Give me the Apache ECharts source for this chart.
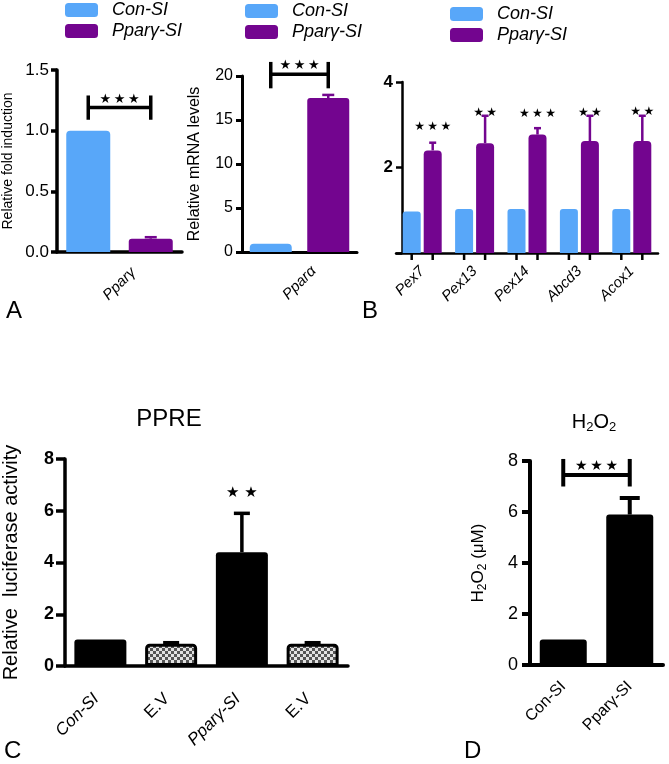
<!DOCTYPE html>
<html><head><meta charset="utf-8">
<script src="https://cdn.jsdelivr.net/npm/echarts@6/dist/echarts.min.js"></script>
<style>html,body{margin:0;padding:0;background:#fff}#c{width:669px;height:764px}</style>
</head><body><div id="c"></div>
<script>
const FONT = 'Liberation Sans, Arial, Helvetica, sans-serif';
const STARFONT = 'DejaVu Sans, sans-serif';
const BLUE = '#58a7f9', PURPLE = '#73058f';
const TS = '\u2009';

// ---- Panel A (left): Pparγ ----
const catA1 = ['Con-SI', 'Pparγ-SI'];
const conA1 = [1.0, '-'];
const pparA1 = ['-', 0.11];
const errA1 = [0, 0.012];
const sigA1 = [[0, 1, 1.19, 1.09, 1.29]];   // from, to, level, low end, high end
const starsA1 = ['★★★'];

// ---- Panel A (right): Pparα ----
const catA2 = ['Con-SI', 'Pparγ-SI'];
const conA2 = [0.95, '-'];
const pparA2 = ['-', 17.5];
const errA2 = [0, 0.35];
const sigA2 = [[0, 1, 20.2, 18.6, 21.6]];
const starsA2 = ['★★★'];

// ---- Panel B ----
const catB = ['Pex7', 'Pex13', 'Pex14', 'Abcd3', 'Acox1'];
const conB = [0.97, 1.03, 1.03, 1.03, 1.03];
const pparB = [2.40, 2.57, 2.77, 2.62, 2.62];
const errPparB = [0.18, 0.64, 0.15, 0.59, 0.59];
const starLevelB = [2.94, 3.27, 3.25, 3.27, 3.29];
const starsB = ['★★★', '★★', '★★★', '★★', '★★'];

// ---- Panel C: PPRE ----
const catC = ['Con-SI', 'E.V', 'Pparγ-SI', 'E.V'];
const valC = [1.02, 0.86, 4.4, 0.86];
const errC = [0, 0.04, 1.5, 0.04];
const starIdxC = [2];
const starLevelC = [6.7];
const starsC = ['★★'];

// ---- Panel D: H2O2 ----
const catD = ['Con-SI', 'Pparγ-SI'];
const valD = [1.0, 5.9];
const errD = [0, 0.65];
const sigD = [[0, 1, 7.45, 7.0, 8.08]];
const starsD = ['★★★'];

const spaced = (s, sep) => s.split('').join(sep);

// checker pattern for E.V bars
const pc = document.createElement('canvas');
pc.width = 6; pc.height = 6;
const pctx = pc.getContext('2d');
pctx.fillStyle = '#e2e2e2'; pctx.fillRect(0, 0, 6, 6);
pctx.fillStyle = '#555'; pctx.fillRect(0, 0, 3, 3); pctx.fillRect(3, 3, 3, 3);
const checker = { image: pc, repeat: 'repeat' };

function errSeries(idx, vals, errs, offset, capW, lw, color) {
  const data = [];
  vals.forEach((v, i) => { if (typeof v === 'number' && errs[i] > 0) data.push([i, v, errs[i]]); });
  return {
    type: 'custom', xAxisIndex: idx, yAxisIndex: idx, z: 5, silent: true, clip: false,
    encode: { x: 0, y: 1 }, data,
    renderItem(p, api) {
      const i = api.value(0), v = api.value(1), e = api.value(2);
      const b = api.coord([i, v]), t = api.coord([i, v + e]);
      const x = b[0] + offset;
      return { type: 'group', children: [
        { type: 'line', shape: { x1: x, y1: b[1], x2: x, y2: t[1] }, style: { stroke: color, lineWidth: lw } },
        { type: 'line', shape: { x1: x - capW / 2, y1: t[1], x2: x + capW / 2, y2: t[1] }, style: { stroke: color, lineWidth: lw } }
      ]};
    }
  };
}

function bracketSeries(idx, sig, stars, lw, starSize, sep) {
  return {
    type: 'custom', xAxisIndex: idx, yAxisIndex: idx, z: 6, silent: true, clip: false,
    encode: { x: 0, y: 2 }, data: sig,
    renderItem(p, api) {
      const a = api.coord([api.value(0), api.value(2)]);
      const b = api.coord([api.value(1), api.value(2)]);
      const lo = api.coord([api.value(0), api.value(3)])[1];
      const hi = api.coord([api.value(0), api.value(4)])[1];
      const st = { stroke: '#000', lineWidth: lw };
      return { type: 'group', children: [
        { type: 'line', shape: { x1: a[0], y1: a[1], x2: b[0], y2: b[1] }, style: st },
        { type: 'line', shape: { x1: a[0], y1: lo, x2: a[0], y2: hi }, style: st },
        { type: 'line', shape: { x1: b[0], y1: lo, x2: b[0], y2: hi }, style: st },
        { type: 'text', style: { text: spaced(stars[p.dataIndex], sep), x: (a[0] + b[0]) / 2, y: a[1] - lw / 2,
            align: 'center', verticalAlign: 'bottom', fontSize: starSize, fontFamily: STARFONT, fill: '#000' } }
      ]};
    }
  };
}

function starSeries(idx, xs, levels, stars, offset, size, sep) {
  return {
    type: 'custom', xAxisIndex: idx, yAxisIndex: idx, z: 6, silent: true, clip: false,
    encode: { x: 0, y: 1 }, data: xs.map((x, i) => [x, levels[i]]),
    renderItem(p, api) {
      const c = api.coord([api.value(0), api.value(1)]);
      return { type: 'text', style: { text: spaced(stars[p.dataIndex], sep), x: c[0] + offset, y: c[1],
        align: 'center', verticalAlign: 'middle', fontSize: size, fontFamily: STARFONT, fill: '#000' } };
    }
  };
}

const BW_B = 18, GAP_B = 3;
const OFF_B = (BW_B + GAP_B) / 2;

function tickSeriesB() {
  return {
    type: 'custom', xAxisIndex: 2, yAxisIndex: 2, z: 7, silent: true, clip: false,
    encode: { x: 0, y: 1 }, data: catB.map((c, i) => [i, 0]),
    renderItem(p, api) {
      const c = api.coord([api.value(0), 0]);
      const st = { stroke: '#000', lineWidth: 2.5 };
      return { type: 'group', children: [-OFF_B, OFF_B].map(o => (
        { type: 'line', shape: { x1: c[0] + o, y1: c[1], x2: c[0] + o, y2: c[1] + 7 }, style: st }
      ))};
    }
  };
}

function yAx(idx, max, interval, o) {
  return Object.assign({
    type: 'value', gridIndex: idx, min: 0, max, interval,
    splitLine: { show: false },
    axisLine: { show: true, lineStyle: { color: '#000', width: o.lw } },
    axisTick: { show: true, length: o.tl, lineStyle: { color: '#000', width: o.lw } },
    axisLabel: { color: '#000', fontFamily: FONT, fontSize: o.fs, fontWeight: o.fw || 'normal',
      margin: o.m, formatter: o.fmt },
    nameLocation: 'middle', nameGap: o.ng, name: o.name,
    nameTextStyle: Object.assign({ color: '#000', fontFamily: FONT, fontSize: o.nfs }, o.nts || {})
  }, o.extra || {});
}

const legendBase = (left, top) => ({
  left, top, orient: 'vertical', padding: 0, itemGap: 3, itemWidth: 33, itemHeight: 14,
  icon: 'roundRect', data: ['Con-SI', 'Pparγ-SI'], selectedMode: false,
  textStyle: { fontFamily: FONT, fontStyle: 'italic', fontSize: 18, color: '#000', padding: [0, 0, 0, 9] }
});

const titleStyle = (fs) => ({ fontFamily: FONT, fontSize: fs, fontWeight: 'normal', color: '#000' });

const option = {
  animation: false,
  backgroundColor: '#fff',
  title: [
    { text: 'PPRE', left: 169, top: 407, textAlign: 'center', padding: 0, textStyle: titleStyle(24) },
    { text: '{a|H}{s|2}{a|O}{s|2}', left: 594, top: 410, textAlign: 'center', padding: 0,
      textStyle: Object.assign(titleStyle(20), { rich: {
        a: { fontFamily: FONT, fontSize: 20, lineHeight: 24, color: '#000' },
        s: { fontFamily: FONT, fontSize: 13, lineHeight: 13, verticalAlign: 'bottom', color: '#000' } } }) },
    { text: 'A', left: 6, top: 299, padding: 0, textStyle: titleStyle(24) },
    { text: 'B', left: 362, top: 299, padding: 0, textStyle: titleStyle(24) },
    { text: 'C', left: 4, top: 739, padding: 0, textStyle: titleStyle(24) },
    { text: 'D', left: 464, top: 739, padding: 0, textStyle: titleStyle(24) }
  ],
  legend: [legendBase(65, 1), legendBase(245, 2), legendBase(450, 5)],
  grid: [
    { left: 57, top: 70, width: 125, height: 182 },
    { left: 242, top: 76, width: 115, height: 176 },
    { left: 396, top: 82, width: 262, height: 171 },
    { left: 62, top: 459, width: 286, height: 207 },
    { left: 530, top: 461, width: 133, height: 204 }
  ],
  xAxis: [
    { type: 'category', gridIndex: 0, data: catA1,
      axisLine: { lineStyle: { color: '#000', width: 3.5 } },
      axisTick: { alignWithLabel: true, length: 9, lineStyle: { color: '#000', width: 3.5 } },
      axisLabel: { show: false },
      name: 'Pparγ', nameLocation: 'middle', nameGap: 32, nameRotate: 45,
      nameTextStyle: { color: '#000', fontFamily: FONT, fontSize: 15, fontStyle: 'italic', align: 'center', verticalAlign: 'middle' } },
    { type: 'category', gridIndex: 1, data: catA2,
      axisLine: { lineStyle: { color: '#000', width: 3 } },
      axisTick: { alignWithLabel: true, length: 8, lineStyle: { color: '#000', width: 3 } },
      axisLabel: { show: false },
      name: 'Pparα', nameLocation: 'middle', nameGap: 31, nameRotate: 45,
      nameTextStyle: { color: '#000', fontFamily: FONT, fontSize: 15, fontStyle: 'italic', align: 'center', verticalAlign: 'middle' } },
    { type: 'category', gridIndex: 2, data: catB,
      axisLine: { lineStyle: { color: '#000', width: 2.5 } },
      axisTick: { show: false },
      axisLabel: { color: '#000', fontFamily: FONT, fontSize: 15, fontStyle: 'italic', rotate: 45, margin: 16, interval: 0 } },
    { type: 'category', gridIndex: 3, data: catC,
      axisLine: { lineStyle: { color: '#000', width: 3.5 } },
      axisTick: { alignWithLabel: true, length: 10, lineStyle: { color: '#000', width: 3.5 } },
      axisLabel: { color: '#000', fontFamily: FONT, fontSize: 17, rotate: 45, margin: 26, interval: 0, padding: [0, 6, 0, 0],
        formatter: v => v === 'E.V' ? v : '{i|' + v + '}',
        rich: { i: { fontFamily: FONT, fontSize: 17, fontStyle: 'italic', color: '#000' } } } },
    { type: 'category', gridIndex: 4, data: catD,
      axisLine: { lineStyle: { color: '#000', width: 4 } },
      axisTick: { alignWithLabel: true, length: 9, lineStyle: { color: '#000', width: 4 } },
      axisLabel: { color: '#000', fontFamily: FONT, fontSize: 16, rotate: 45, margin: 19, interval: 0 } }
  ],
  yAxis: [
    yAx(0, 1.5, 0.5, { lw: 3.5, tl: 6, fs: 17, m: 8, fmt: v => v.toFixed(1), ng: 42, name: 'Relative fold induction', nfs: 14 }),
    yAx(1, 20, 5, { lw: 3, tl: 6, fs: 16, m: 9, ng: 39, name: 'Relative mRNA levels', nfs: 16 }),
    yAx(2, 4, 2, { lw: 2.5, tl: 6, fs: 17, fw: 'bold', m: 9, fmt: v => v === 0 ? '' : String(v), ng: 30, name: '', nfs: 14, extra: { offset: -6 } }),
    yAx(3, 8, 2, { lw: 3.5, tl: 9, fs: 18, fw: 'bold', m: 11, ng: 44, name: 'Relative  luciferase activity', nfs: 20 }),
    yAx(4, 8, 2, { lw: 4, tl: 8, fs: 18, m: 12, ng: 41, name: '{a|H}{s|2}{a|O}{s|2}{a| (μM)}', nfs: 17,
      nts: { rich: {
        a: { fontFamily: FONT, fontSize: 17, lineHeight: 21, color: '#000' },
        s: { fontFamily: FONT, fontSize: 12, lineHeight: 12, verticalAlign: 'bottom', color: '#000' } } } })
  ],
  series: [
    { name: 'Con-SI', type: 'bar', xAxisIndex: 0, yAxisIndex: 0, data: conA1, barWidth: 44, barGap: '-100%',
      itemStyle: { color: BLUE, borderRadius: [4, 4, 0, 0] } },
    { name: 'Pparγ-SI', type: 'bar', xAxisIndex: 0, yAxisIndex: 0, data: pparA1, barWidth: 44, barGap: '-100%',
      itemStyle: { color: PURPLE, borderRadius: [3, 3, 0, 0] } },
    { name: 'Con-SI', type: 'bar', xAxisIndex: 1, yAxisIndex: 1, data: conA2, barWidth: 42, barGap: '-100%',
      itemStyle: { color: BLUE, borderRadius: [4, 4, 0, 0] } },
    { name: 'Pparγ-SI', type: 'bar', xAxisIndex: 1, yAxisIndex: 1, data: pparA2, barWidth: 42, barGap: '-100%',
      itemStyle: { color: PURPLE, borderRadius: [3, 3, 0, 0] } },
    { name: 'Con-SI', type: 'bar', xAxisIndex: 2, yAxisIndex: 2, data: conB, barWidth: BW_B, barGap: (GAP_B / BW_B * 100) + '%',
      itemStyle: { color: BLUE, borderRadius: [3, 3, 0, 0] } },
    { name: 'Pparγ-SI', type: 'bar', xAxisIndex: 2, yAxisIndex: 2, data: pparB, barWidth: BW_B, barGap: (GAP_B / BW_B * 100) + '%',
      itemStyle: { color: PURPLE, borderRadius: [4, 4, 0, 0] } },
    { name: 'PPRE', type: 'bar', xAxisIndex: 3, yAxisIndex: 3, barWidth: 52,
      data: valC.map((v, i) => catC[i] === 'E.V'
        ? { value: v, itemStyle: { color: checker, borderColor: '#000', borderWidth: 3, borderRadius: [3, 3, 0, 0] } }
        : { value: v, itemStyle: { color: '#000', borderRadius: [3, 3, 0, 0] } }) },
    { name: 'H2O2', type: 'bar', xAxisIndex: 4, yAxisIndex: 4, barWidth: 47, data: valD,
      itemStyle: { color: '#000', borderRadius: [3, 3, 0, 0] } },
    errSeries(0, pparA1, errA1, 0, 12, 2.5, PURPLE),
    errSeries(1, pparA2, errA2, 0, 12, 2.5, PURPLE),
    errSeries(2, pparB, errPparB, OFF_B, 7, 2.5, PURPLE),
    errSeries(3, valC, errC, 0, 16, 3.5, '#000'),
    errSeries(4, valD, errD, 0, 20, 4, '#000'),
    bracketSeries(0, sigA1, starsA1, 3.5, 13, TS),
    bracketSeries(1, sigA2, starsA2, 3.5, 13, TS),
    bracketSeries(4, sigD, starsD, 4, 14, TS),
    starSeries(2, catB.map((c, i) => i), starLevelB, starsB, OFF_B, 12, TS),
    starSeries(3, starIdxC, starLevelC, starsC, 0, 15, ' '),
    tickSeriesB()
  ]
};

const chart = echarts.init(document.getElementById('c'), null, { renderer: 'canvas' });
chart.setOption(option);
</script>
</body></html>
